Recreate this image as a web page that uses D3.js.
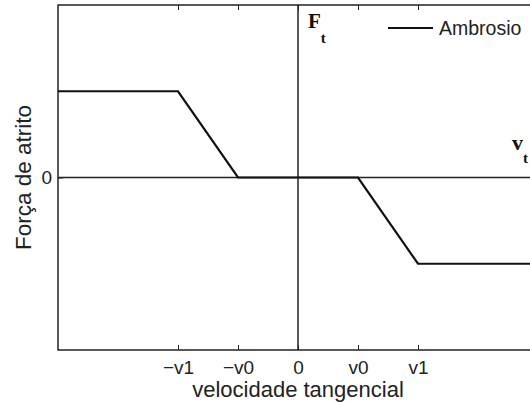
<!DOCTYPE html>
<html>
<head>
<meta charset="utf-8">
<script src="https://cdn.jsdelivr.net/npm/d3@7"></script>
<style>
  body { margin: 0; background: #fff; }
  svg { display: block; }
  .tick text { font-family: "Liberation Sans", Arial, sans-serif; font-size: 19px; fill: #222; }
</style>
</head>
<body>
<div id="chart"></div>
<script>
// curva de atrito (Ambrosio)
const vel = [-4, -2, -1, 0, 1, 2, 4];
const forca = [1, 1, 0, 0, 0, -1, -1];

const xTicks = [-2, -1, 0, 1, 2];
const xTickLabels = ["\u2212v1", "\u2212v0", "0", "v0", "v1"];
const yTicks = [0];
const yTickLabels = ["0"];

const width = 530, height = 402;
const ink = "#222";

const svg = d3.select("#chart").append("svg")
  .attr("width", width)
  .attr("height", height);

const x = d3.scaleLinear().domain([-4, 4]).range([58, 538]);
const y = d3.scaleLinear().domain([-2, 2]).range([350, 5]);

// eixos (ticks para dentro)
const gx = svg.append("g")
  .attr("transform", `translate(0,${y(-2)})`)
  .call(d3.axisBottom(x).tickValues(xTicks)
    .tickFormat((d, i) => xTickLabels[i])
    .tickSizeInner(-5).tickSizeOuter(0).tickPadding(11));

const gxTop = svg.append("g")
  .attr("transform", `translate(0,${y(2)})`)
  .call(d3.axisTop(x).tickValues(xTicks)
    .tickFormat("").tickSizeInner(-5).tickSizeOuter(0));

const gy = svg.append("g")
  .attr("transform", `translate(${x(-4)},0)`)
  .call(d3.axisLeft(y).tickValues(yTicks)
    .tickFormat((d, i) => yTickLabels[i])
    .tickSizeInner(-5).tickSizeOuter(0).tickPadding(6));

[gx, gxTop, gy].forEach(g => {
  g.select(".domain").remove();
  g.selectAll(".tick line").attr("stroke", ink).attr("stroke-width", 1);
});

// moldura
svg.append("path")
  .attr("d", `M${x(4)},${y(2)}H${x(-4)}V${y(-2)}H${x(4)}`)
  .attr("fill", "none")
  .attr("stroke", ink)
  .attr("stroke-width", 1.5);

// linhas de zero
svg.append("line")
  .attr("x1", x(-4)).attr("x2", x(4))
  .attr("y1", y(0)).attr("y2", y(0))
  .attr("stroke", ink).attr("stroke-width", 1.5);

svg.append("line")
  .attr("x1", x(0)).attr("x2", x(0))
  .attr("y1", y(2)).attr("y2", y(-2))
  .attr("stroke", ink).attr("stroke-width", 1.5);

// curva
const line = d3.line().x((d, i) => x(vel[i])).y(d => y(d));
svg.append("path")
  .datum(forca)
  .attr("d", line)
  .attr("fill", "none")
  .attr("stroke", "#111")
  .attr("stroke-width", 2.2);

// legenda
svg.append("line")
  .attr("x1", 388).attr("x2", 433)
  .attr("y1", 28).attr("y2", 28)
  .attr("stroke", "#111").attr("stroke-width", 2.2);
svg.append("text")
  .attr("x", 439).attr("y", 35)
  .style("font-family", "'Liberation Sans', Arial, sans-serif")
  .style("font-size", "19.5px")
  .attr("fill", ink)
  .text("Ambrosio");

// rótulos dos eixos
svg.append("text")
  .attr("x", x(0)).attr("y", 397)
  .attr("text-anchor", "middle")
  .style("font-family", "'Liberation Sans', Arial, sans-serif")
  .style("font-size", "22px")
  .attr("fill", ink)
  .text("velocidade tangencial");

svg.append("text")
  .attr("transform", `translate(31,${(y(2) + y(-2)) / 2}) rotate(-90)`)
  .attr("text-anchor", "middle")
  .style("font-family", "'Liberation Sans', Arial, sans-serif")
  .style("font-size", "22.5px")
  .attr("fill", ink)
  .text("Força de atrito");

// F_t e v_t
const serif = "'Liberation Serif', 'Times New Roman', serif";
const ft = svg.append("text").attr("x", 308).attr("y", 28)
  .style("font-family", serif).style("font-weight", "bold")
  .style("font-size", "21px").attr("fill", "#111");
ft.append("tspan").text("F");
ft.append("tspan").attr("dy", 15).style("font-size", "15px").text("t");

const vt = svg.append("text").attr("x", 512).attr("y", 150)
  .style("font-family", serif).style("font-weight", "bold")
  .style("font-size", "22px").attr("fill", "#111");
vt.append("tspan").text("v");
vt.append("tspan").attr("dy", 13).style("font-size", "15px").text("t");
</script>
</body>
</html>
